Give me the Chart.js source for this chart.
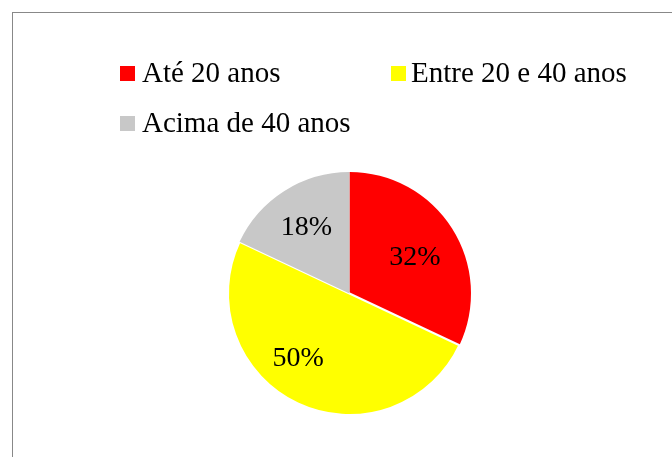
<!DOCTYPE html>
<html>
<head>
<meta charset="utf-8">
<script src="https://cdn.jsdelivr.net/npm/chart.js@4/dist/chart.umd.min.js"></script>
<style>
  html, body { margin: 0; padding: 0; background: #fff; }
  body { width: 672px; height: 457px; position: relative; overflow: hidden; }
  #frame { position: absolute; left: 12px; top: 12px; width: 700px; height: 500px;
           border-left: 1px solid #888; border-top: 1px solid #888; box-sizing: border-box; }
  #c { position: absolute; left: 0; top: 0; }
  .lg-box { position: absolute; width: 15px; height: 15px; }
  .lg-txt { position: absolute; font-family: "Liberation Serif", "Times New Roman", serif;
            font-size: 29px; line-height: 32px; color: #000; white-space: nowrap; }
</style>
</head>
<body>
<div id="frame"></div>
<canvas id="c" width="672" height="457"></canvas>
<div id="legend"></div>
<script>
const categories = ["Até 20 anos", "Entre 20 e 40 anos", "Acima de 40 anos"];
const values = [32, 50, 18];
const colors = ["#FF0000", "#FFFF00", "#C8C8C8"];
const percentLabels = ["32%", "50%", "18%"];

// HTML legend (two columns, wrapping)
const legendEl = document.getElementById("legend");
const colX = [120, 391];
const rowY = [66, 116];
categories.forEach((name, i) => {
  const col = i % 2, row = Math.floor(i / 2);
  const box = document.createElement("div");
  box.className = "lg-box";
  box.style.left = colX[col] + "px";
  box.style.top = rowY[row] + "px";
  box.style.background = colors[i];
  legendEl.appendChild(box);
  const t = document.createElement("div");
  t.className = "lg-txt";
  t.style.left = (colX[col] + 22 - (col ? 2 : 0)) + "px";
  t.style.top = (rowY[row] - 10) + "px";
  t.textContent = name;
  legendEl.appendChild(t);
});

const labelPlugin = {
  id: "pctLabels",
  afterDatasetsDraw(chart, args, opts) {
    const ctx = chart.ctx;
    const meta = chart.getDatasetMeta(0);
    ctx.save();
    ctx.font = "28px 'Liberation Serif', 'Times New Roman', serif";
    ctx.fillStyle = "#000";
    ctx.textAlign = "center";
    ctx.textBaseline = "alphabetic";
    meta.data.forEach((arc, i) => {
      const p = arc.getProps(["x", "y", "startAngle", "endAngle", "outerRadius"], true);
      const mid = (p.startAngle + p.endAngle) / 2 + (opts.angleOffset[i] || 0) * Math.PI / 180;
      const r = p.outerRadius * opts.radial[i];
      const x = p.x + Math.cos(mid) * r;
      const y = p.y + Math.sin(mid) * r;
      ctx.fillText(percentLabels[i], x, y + 9.5);
    });
    ctx.restore();
  }
};

new Chart(document.getElementById("c"), {
  type: "pie",
  data: {
    labels: categories,
    datasets: [{
      data: values,
      backgroundColor: colors,
      borderColor: "#FFFFFF",
      borderWidth: [0, 2, 0]
    }]
  },
  options: {
    responsive: false,
    animation: false,
    layout: { padding: { top: 171, bottom: 41, left: 27, right: 0 } },
    plugins: {
      legend: { display: false },
      tooltip: { enabled: false },
      pctLabels: { radial: [0.625, 0.67, 0.66], angleOffset: [2, 14, 0] }
    }
  },
  plugins: [labelPlugin]
});
</script>
</body>
</html>
